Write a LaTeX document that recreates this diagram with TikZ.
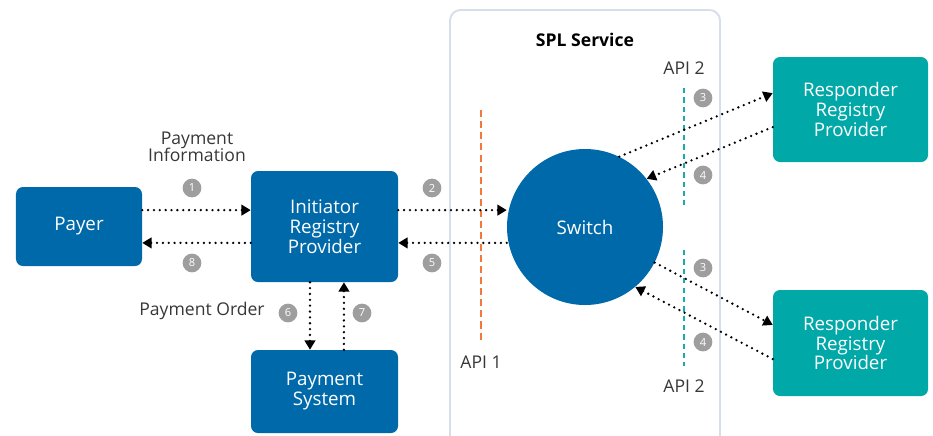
\documentclass[tikz,border=0pt]{standalone}
\usepackage{fontspec}
\setmainfont{Open Sans}
\usetikzlibrary{calc,arrows.meta}
\definecolor{splblue}{RGB}{0,105,170}
\definecolor{splteal}{RGB}{0,168,168}
\definecolor{framegray}{RGB}{214,222,234}
\definecolor{apiorange}{RGB}{243,120,60}
\definecolor{apiteal}{RGB}{26,172,172}
\definecolor{badgegray}{RGB}{158,158,158}
\definecolor{labelgray}{RGB}{55,55,55}

\tikzset{
  box/.style={rectangle, rounded corners=6pt, fill=#1, text=white, align=center,
    inner sep=0pt, font=\fontsize{16}{17}\selectfont},
  badge/.style={circle, fill=badgegray, text=white, inner sep=0pt,
    minimum size=16pt, font=\fontsize{9.5}{10}\selectfont},
  label/.style={text=labelgray, align=center, font=\fontsize{15}{17}\selectfont},
  flow/.style={line width=2.2pt, dash pattern=on 0pt off 5pt, line cap=round,
    -{Triangle[length=8pt,width=9pt]}},
}

\begin{document}
\begin{tikzpicture}[x=0.03cm, y=-0.03cm]
    \useasboundingbox (0,0) rectangle (933,435);
    \clip (0,0) rectangle (933,435);
    % Service frame
    \draw[framegray, line width=1.6pt, rounded corners=9pt] (450,10) rectangle (720,450);
    \node[font=\bfseries\fontsize{15}{17}\selectfont] (spl) at (585,40) {SPL Service};
    % API boundaries
    \draw[apiorange, line width=2pt, dash pattern=on 6pt off 3.5pt] (481,110) -- (481,340);
    \draw[apiteal, line width=2pt, dash pattern=on 4.5pt off 3.5pt] (684,88) -- (684,205);
    \draw[apiteal, line width=2pt, dash pattern=on 4.5pt off 3.5pt] (684,250) -- (684,366);
    \node[label] (api1) at (481,362) {API 1};
    \node[label] (api2a) at (684,68) {API 2};
    \node[label] (api2b) at (684,386) {API 2};
    % Parties
    \node[box=splblue, minimum width=3.78cm, minimum height=2.37cm] (payer) at (79,226.5) {Payer};
    \node[box=splblue, minimum width=4.41cm, minimum height=3.33cm] (irp) at (324.5,226.5)
      {Initiator\\Registry\\Provider};
    \node[box=splblue, minimum width=4.41cm, minimum height=2.49cm] (ps) at (324.5,391.5)
      {Payment\\System};
    \node[box=splblue, circle, minimum size=4.68cm] (switch) at (585,227) {Switch};
    \node[box=splteal, minimum width=4.65cm, minimum height=3.15cm] (resp1) at (850.5,109.5)
      {Responder\\Registry\\Provider};
    \node[box=splteal, minimum width=4.65cm, minimum height=3.18cm] (resp2) at (850.5,343)
      {Responder\\Registry\\Provider};
    % Message flows
    \draw[flow] ([yshift=14pt]payer.east) -- ([yshift=14pt]irp.west);
    \draw[flow] ([yshift=-14pt]irp.west) -- ([yshift=-14pt]payer.east);
    \draw[flow] ([yshift=14pt]irp.east) -- ([yshift=14pt]irp.east -| switch.west);
    \draw[flow] ([yshift=-14pt]irp.east -| switch.west) -- ([yshift=-14pt]irp.east);
    \draw[flow] ([xshift=-12.4pt]irp.south) -- ([xshift=-12.4pt]ps.north);
    \draw[flow] ([xshift=16.6pt]ps.north) -- ([xshift=16.6pt]irp.south);
    \draw[flow] (switch.64.7) -- ([yshift=14pt]resp1.west);
    \draw[flow] ([yshift=-15pt]resp1.west) -- (switch.38);
    \draw[flow] (switch.-27.5) -- ([yshift=15.4pt]resp2.west);
    \draw[flow] ([yshift=-13.7pt]resp2.west) -- (switch.-50.6);
    % Step numbers
    \node[badge] (b1) at (192,188) {1};
    \node[badge] (b8) at (192,263) {8};
    \node[badge] (b2) at (432,188) {2};
    \node[badge] (b5) at (432,263) {5};
    \node[badge] (b6) at (288,313) {6};
    \node[badge] (b7) at (362,313) {7};
    \node[badge] (b3a) at (703,98) {3};
    \node[badge] (b4a) at (703,175) {4};
    \node[badge] (b3b) at (703,268) {3};
    \node[badge] (b4b) at (703,342) {4};
    % Labels
    \node[label] (info) at (197,147) {Payment\\[-2pt]Information};
    \node[label] (order) at (202,311) {Payment Order};
\end{tikzpicture}
\end{document}
